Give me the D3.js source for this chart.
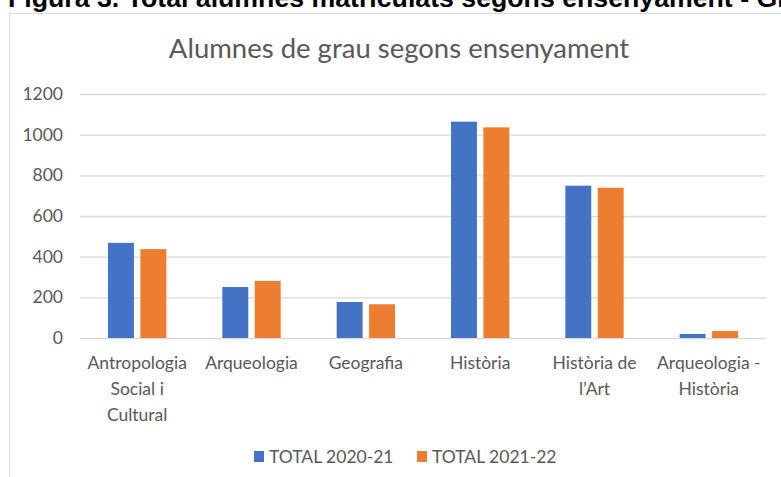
<!DOCTYPE html>
<html>
<head>
<meta charset="utf-8">
<script src="https://cdn.jsdelivr.net/npm/d3@7"></script>
<style>
  html, body { margin: 0; padding: 0; background: #fff; overflow: hidden; }
  svg { display: block; }
</style>
</head>
<body>
<svg id="chart" width="781" height="477"></svg>
<script>
// ---- data ----
const headerText = "Figura 3. Total alumnes matriculats segons ensenyament - Grau";
const chartTitle = "Alumnes de grau segons ensenyament";
const categories = [
  ["Antropologia", "Social i", "Cultural"],
  ["Arqueologia"],
  ["Geografia"],
  ["Història"],
  ["Història de", "l\u2019Art"],
  ["Arqueologia -", "Història"]
];
const seriesNames = ["TOTAL 2020-21", "TOTAL 2021-22"];
const total2020 = [468, 251, 177, 1064, 749, 20];
const total2021 = [437, 281, 166, 1036, 739, 34];
const yTicks = [0, 200, 400, 600, 800, 1000, 1200];
const colors = ["#4472C4", "#ED7D31"];

// ---- layout ----
const svg = d3.select("#chart");
const font = "Lato, 'Open Sans', sans-serif";
const textColor = "#595959";
const plot = { left: 80, right: 766, top: 94, bottom: 338 };

const catKeys = categories.map((c, i) => i);
const x0 = d3.scaleBand().domain(catKeys).range([plot.left, plot.right])
  .paddingInner(0.49).paddingOuter(0.245);
const x1 = d3.scaleBand().domain([0, 1]).range([0, x0.bandwidth()]).paddingInner(0.2);
const y = d3.scaleLinear().domain([0, 1200]).range([plot.bottom, plot.top]);

// header text (cut off at top, as in the source page)
svg.append("text")
  .attr("x", 8).attr("y", 7)
  .attr("font-family", "'Liberation Sans', Arial, sans-serif")
  .attr("font-weight", "bold").attr("font-size", 26.7)
  .attr("fill", "#000")
  .text(headerText);

// chart frame
svg.append("rect")
  .attr("x", 9.5).attr("y", 13.5).attr("width", 900).attr("height", 600)
  .attr("fill", "#fff").attr("stroke", "#d9d9d9").attr("stroke-width", 1);

// title
svg.append("text")
  .attr("x", 399).attr("y", 57.5)
  .attr("text-anchor", "middle")
  .attr("font-family", font).attr("font-size", 27.5)
  .attr("fill", textColor)
  .text(chartTitle);

// y axis (gridlines + labels)
const yAxis = d3.axisLeft(y).tickValues(yTicks).tickFormat(d3.format("d"))
  .tickSize(-(plot.right - plot.left)).tickPadding(17);
const gy = svg.append("g")
  .attr("transform", `translate(${plot.left},0)`)
  .call(yAxis);
gy.select(".domain").remove();
gy.selectAll(".tick line").attr("stroke", "#d9d9d9").attr("stroke-width", 1.3);
gy.selectAll(".tick text")
  .attr("font-family", font).attr("font-size", 17.5)
  .attr("fill", textColor);

// bars
const groups = svg.append("g").selectAll("g")
  .data(catKeys).join("g")
  .attr("transform", d => `translate(${x0(d)},0)`);
groups.selectAll("rect")
  .data(i => [total2020[i], total2021[i]].map((v, s) => ({ v, s })))
  .join("rect")
  .attr("x", d => x1(d.s))
  .attr("width", x1.bandwidth())
  .attr("y", d => y(d.v))
  .attr("height", d => y(0) - y(d.v))
  .attr("fill", d => colors[d.s]);

// x axis labels (multi-line)
const xAxis = d3.axisBottom(x0).tickSize(0).tickFormat(() => "");
const gx = svg.append("g").attr("transform", `translate(0,${plot.bottom})`).call(xAxis);
gx.select(".domain").remove();
gx.selectAll(".tick").each(function (d) {
  const t = d3.select(this).select("text")
    .attr("font-family", font).attr("font-size", 17.5)
    .attr("fill", textColor).attr("y", 0).attr("dy", null);
  t.text(null);
  categories[d].forEach((line, k) => {
    t.append("tspan").attr("x", 0).attr("y", 31 + k * 25.8).text(line);
  });
});

// legend
const legendItems = [
  { name: seriesNames[0], color: colors[0], x: 254 },
  { name: seriesNames[1], color: colors[1], x: 417 }
];
const lg = svg.append("g").selectAll("g").data(legendItems).join("g")
  .attr("transform", d => `translate(${d.x},451)`);
lg.append("rect").attr("width", 10).attr("height", 11).attr("fill", d => d.color);
lg.append("text").attr("x", 15).attr("y", 12)
  .attr("font-family", font).attr("font-size", 17.5)
  .attr("fill", textColor).text(d => d.name);
</script>
</body>
</html>
